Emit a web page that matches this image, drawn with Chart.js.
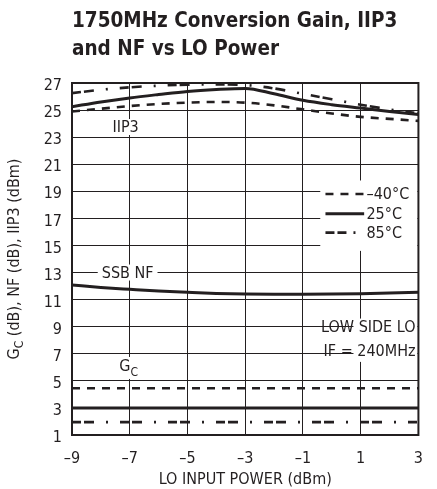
<!DOCTYPE html>
<html>
<head>
<meta charset="utf-8">
<script src="https://cdn.jsdelivr.net/npm/chart.js@4/dist/chart.umd.min.js"></script>
<style>
  html, body { margin: 0; padding: 0; background: #fff; }
  #wrap { position: relative; width: 437px; height: 489px; }
  #title {
    position: absolute; left: 72px; top: 6px;
    font-family: "Liberation Sans Narrow", "DejaVu Sans Condensed", sans-serif;
    font-weight: bold; font-size: 20.5px; line-height: 28px; color: #231f20;
  }
  canvas { position: absolute; left: 0; top: 0; }
</style>
</head>
<body>
<div id="wrap">
  <canvas id="chart" width="437" height="489"></canvas>
  <div id="title">1750MHz Conversion Gain, IIP3<br>and NF vs LO Power</div>
</div>
<script>
const FONT = '"Liberation Sans Narrow", "DejaVu Sans Condensed", sans-serif';
const INK = "#231f20";

// LO input power (dBm)
const loPower = [-9, -8, -7, -6, -5, -4, -3, -2, -1, 0, 1, 2, 3];

// IIP3 (dBm)
const iip3Minus40 = [24.9, 25.1, 25.3, 25.45, 25.55, 25.6, 25.55, 25.35, 25.05, 24.75, 24.5, 24.35, 24.2];
const iip3At25 = [25.25, 25.6, 25.9, 26.15, 26.38, 26.52, 26.6, 26.2, 25.72, 25.4, 25.15, 24.9, 24.68];
const iip3At85 = [26.25, 26.5, 26.68, 26.8, 26.88, 26.9, 26.85, 26.6, 26.2, 25.8, 25.4, 25.05, 24.76];

// SSB NF (dB), 25°C
const nfAt25 = [12.08, 11.9, 11.76, 11.63, 11.54, 11.46, 11.41, 11.4, 11.4, 11.41, 11.44, 11.49, 11.54];

// conversion gain (dB)
const gcMinus40 = [4.45, 4.45, 4.45, 4.45, 4.45, 4.45, 4.45, 4.45, 4.45, 4.45, 4.45, 4.45, 4.45];
const gcAt25 = [3.0, 3.0, 3.0, 3.0, 3.0, 3.0, 3.0, 3.0, 3.0, 3.0, 3.0, 3.0, 3.0];
const gcAt85 = [1.95, 1.95, 1.95, 1.95, 1.95, 1.95, 1.95, 1.95, 1.95, 1.95, 1.95, 1.95, 1.95];

const tempLabels = ["\u201340°C", "25°C", "85°C"];
const xTicks = [-9, -7, -5, -3, -1, 1, 3];
const yTicks = [1, 3, 5, 7, 9, 11, 13, 15, 17, 19, 21, 23, 25, 27];

// line styles per temperature
const styles = [
  { width: 2.6, dash: [8, 7] },
  { width: 3, dash: [] },
  { width: 2.6, dash: [9, 3, 10, 12, 2, 12] },
];

function series(values, t) {
  return {
    data: loPower.map((x, i) => ({ x: x, y: values[i] })),
    borderColor: INK,
    borderWidth: styles[t].width,
    borderDash: styles[t].dash,
    pointRadius: 0,
    fill: false,
    cubicInterpolationMode: "monotone",
  };
}

const datasets = [
  series(iip3Minus40, 0), series(iip3At25, 1), series(iip3At85, 2),
  series(nfAt25, 1),
  series(gcMinus40, 0), series(gcAt25, 1), series(gcAt85, 2),
];

// white-backed labels, legend and axis title drawn on the canvas
const labelsPlugin = {
  id: "labels",
  beforeDatasetsDraw(chart) {
    const ctx = chart.ctx;
    const xs = chart.scales.x, ys = chart.scales.y;
    const X = (v) => xs.getPixelForValue(v);
    const Y = (v) => ys.getPixelForValue(v);
    ctx.save();
    ctx.font = "16px " + FONT;
    ctx.fillStyle = INK;
    ctx.textBaseline = "middle";

    function boxText(txt, x, y, align) {
      ctx.textAlign = align || "left";
      const w = ctx.measureText(txt).width;
      const left = align === "right" ? x - w : x;
      ctx.fillStyle = "#fff";
      ctx.fillRect(left - 4, y - 8, w + 8, 16);
      ctx.fillStyle = INK;
      ctx.fillText(txt, x, y + 1);
    }

    boxText("IIP3", X(-7.6), Y(23.75));
    boxText("SSB NF", X(-7.97), Y(13));

    // G with subscript C
    const gx = X(-7.36), gy = Y(6.1);
    ctx.fillStyle = "#fff";
    ctx.fillRect(gx - 4, gy - 9, 28, 22);
    ctx.fillStyle = INK;
    ctx.textAlign = "left";
    ctx.font = "16px " + FONT;
    ctx.fillText("G", gx, gy + 1);
    const gw = ctx.measureText("G").width;
    ctx.font = "12px " + FONT;
    ctx.fillText("C", gx + gw, gy + 7);

    // condition note
    ctx.font = "16px " + FONT;
    ctx.fillStyle = "#fff";
    ctx.fillRect(X(0.75), Y(9.6), X(3) - X(0.75) - 1, Y(6.4) - Y(9.6));
    ctx.fillStyle = INK;
    ctx.textAlign = "right";
    ctx.fillText("LOW SIDE LO", X(2.9), Y(8.9));
    ctx.fillText("IF = 240MHz", X(2.9), Y(7.15));

    // legend
    ctx.fillStyle = "#fff";
    ctx.fillRect(X(-0.4), Y(19.8), X(3) - X(-0.4) - 1, Y(14.6) - Y(19.8));
    const rows = [18.8, 17.35, 15.95];
    tempLabels.forEach((lab, i) => {
      const y = Y(rows[i]);
      ctx.beginPath();
      ctx.strokeStyle = INK;
      ctx.lineWidth = styles[i].width;
      ctx.setLineDash(i === 2 ? [9, 3, 9, 7, 2, 12] : styles[i].dash);
      ctx.moveTo(X(-0.22), y);
      ctx.lineTo(X(1.12), y);
      ctx.stroke();
      ctx.setLineDash([]);
      ctx.fillStyle = INK;
      ctx.textAlign = "left";
      ctx.fillText(lab, X(1.2), y + 1);
    });
    ctx.restore();
  },
  afterDraw(chart) {
    const ctx = chart.ctx;
    const a = chart.chartArea;
    ctx.save();
    ctx.strokeStyle = INK;
    ctx.lineWidth = 2;
    ctx.strokeRect(a.left, a.top, a.right - a.left, a.bottom - a.top);

    // y axis title with subscript
    ctx.translate(15, (a.top + a.bottom) / 2);
    ctx.rotate(-Math.PI / 2);
    ctx.fillStyle = INK;
    ctx.textBaseline = "middle";
    ctx.textAlign = "left";
    const big = "16px " + FONT, small = "12px " + FONT;
    const rest = " (dB), NF (dB), IIP3 (dBm)";
    ctx.font = big;
    const wG = ctx.measureText("G").width;
    const wR = ctx.measureText(rest).width;
    ctx.font = small;
    const wC = ctx.measureText("C").width;
    let x = -(wG + wC + wR) / 2;
    ctx.font = big;
    ctx.fillText("G", x, 0);
    x += wG;
    ctx.font = small;
    ctx.fillText("C", x, 5);
    x += wC;
    ctx.font = big;
    ctx.fillText(rest, x, 0);
    ctx.restore();
  },
};

new Chart(document.getElementById("chart"), {
  type: "line",
  data: { datasets: datasets },
  options: {
    responsive: false,
    animation: false,
    layout: { padding: { left: 0, right: 14.5, top: 83, bottom: 0 } },
    plugins: { legend: { display: false }, tooltip: { enabled: false } },
    scales: {
      x: {
        type: "linear",
        min: -9,
        max: 3,
        afterBuildTicks: (s) => { s.ticks = xTicks.map((v) => ({ value: v })); },
        afterFit: (s) => { s.height = 54; },
        grid: { color: INK, lineWidth: 1, drawTicks: false },
        border: { display: false },
        ticks: {
          color: INK,
          font: { family: FONT, size: 16 },
          padding: 14,
          maxRotation: 0,
          callback: (v) => (v < 0 ? "\u2013" + Math.abs(v) : String(v)),
        },
        title: {
          display: true,
          text: "LO INPUT POWER (dBm)",
          color: INK,
          font: { family: FONT, size: 16 },
          padding: { top: 0, bottom: 0 },
        },
      },
      y: {
        type: "linear",
        min: 1,
        max: 27,
        afterBuildTicks: (s) => { s.ticks = yTicks.map((v) => ({ value: v })); },
        afterFit: (s) => { s.width = 72; },
        grid: { color: INK, lineWidth: 1, drawTicks: false },
        border: { display: false },
        ticks: {
          color: INK,
          font: { family: FONT, size: 16 },
          padding: 10,
          labelOffset: 3,
        },
      },
    },
  },
  plugins: [labelsPlugin],
});
</script>
</body>
</html>
